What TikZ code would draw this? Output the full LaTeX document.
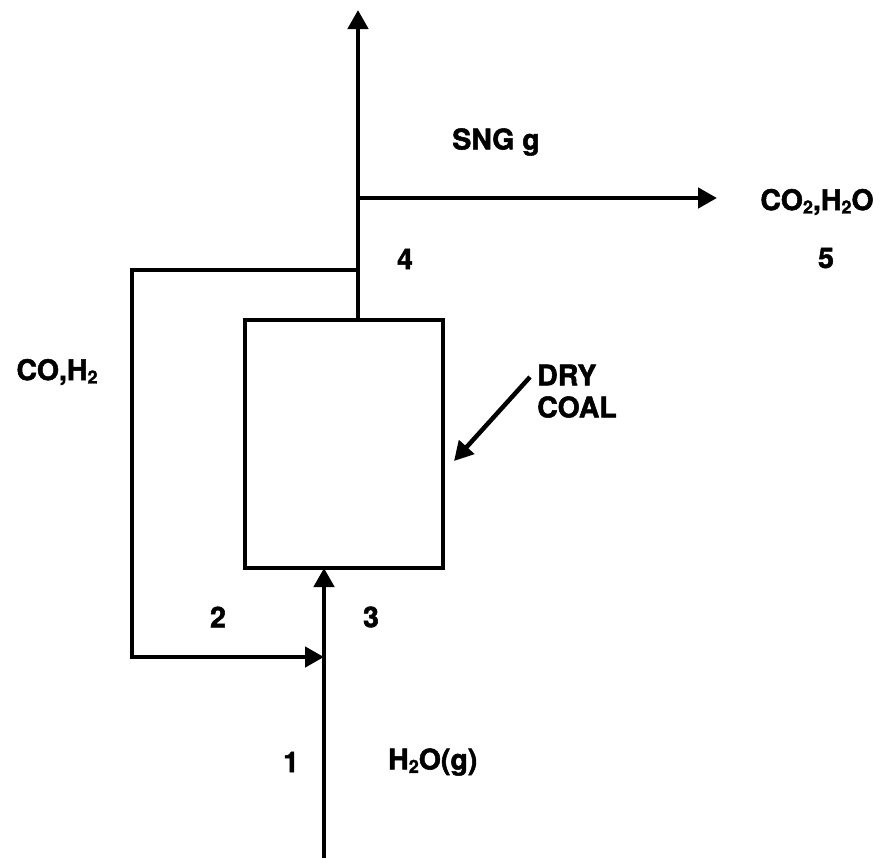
\documentclass[tikz,border=0pt]{standalone}
\usepackage{fontspec}
\setmainfont{TeX Gyre Heros}[BoldFeatures={FakeBold=1.8}]
\usetikzlibrary{arrows.meta}
\newcommand{\lowsub}[1]{\raisebox{-0.22ex}{\fontsize{18}{18}\selectfont #1}}
\begin{document}
\begin{tikzpicture}[x=1pt,y=-1pt,
  flow/.style={line width=4.5pt},
  arr/.style={flow,-{Triangle[length=19pt,width=20pt]}},
  lbl/.style={font=\fontsize{28.5}{32}\selectfont\bfseries,inner sep=0pt},
  reactor/.style={draw,line width=4.3pt,minimum width=198pt,minimum height=248pt,inner sep=0pt}]
\useasboundingbox (0,0) rectangle (883,863);
\node[reactor] (box) at (344,444) {};
\coordinate (bot) at (324,858);
\coordinate (boxin) at (324,568);
\coordinate (boxout) at (358,320);
\coordinate (top) at (358,10);
\coordinate (tee) at (358,198);
\coordinate (out5) at (717,198);
\coordinate (rec) at (358,270);
\coordinate (recL) at (132,270);
\coordinate (recB) at (132,657);
\coordinate (recin) at (324,657);
\coordinate (coalS) at (530,377);
\coordinate (coalE) at (454,461);
\draw[arr] (bot) -- (boxin);
\draw[arr] (boxout) -- (top);
\draw[arr] (tee) -- (out5);
\draw[arr] (rec) -- (recL) -- (recB) -- (recin);
\draw[arr] (coalS) -- (coalE);
\node[lbl] (sng) at (496,142) {SNG g};
\node[lbl] (co2) at (817,202) {CO\lowsub{2},H\lowsub{2}O};
\node[lbl] (n4) at (405,259) {4};
\node[lbl] (n5) at (826,258) {5};
\node[lbl] (coh) at (57,372) {CO,H\lowsub{2}};
\node[lbl,anchor=west] (dry) at (537,375) {DRY};
\node[lbl,anchor=west] (coal) at (537,407) {COAL};
\node[lbl] (n2) at (218,617) {2};
\node[lbl] (n3) at (371,617) {3};
\node[lbl] (n1) at (291,762) {1};
\node[lbl,anchor=west] (h2o) at (388,762) {H\lowsub{2}O(g)};
\end{tikzpicture}
\end{document}
